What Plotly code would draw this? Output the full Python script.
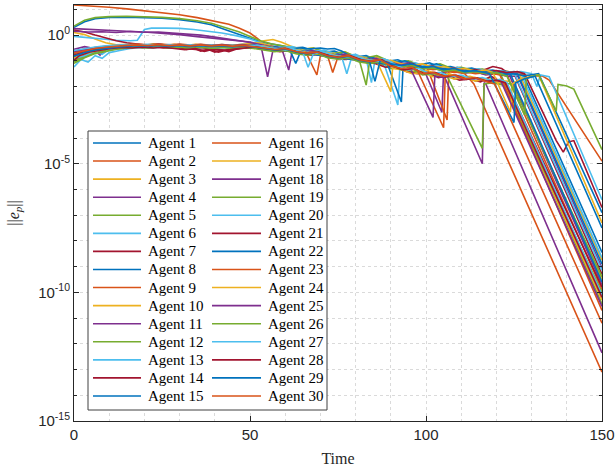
import plotly.graph_objects as go

# Each agent: list of (time, log10 ||e_p||) knots
a01 = [(0,0.30),(3,0.52),(6,0.64),(10,0.69),(15,0.70),(20,0.69),(25,0.66),(30,0.60),(35,0.51),(39,0.40),(43,0.22),(47,0.03),(50,-0.12),(53,-0.27),(56,-0.36),(59,-0.42),(62,-0.5),(65,-0.47),(68,-0.6),(71,-0.66),(74,-0.62),(77,-0.78),(80,-0.85),(83,-0.8),(86,-0.98),(89,-1.02),(92,-0.96),(95,-1.12),(98,-1.15),(101,-1.08),(104,-1.25),(107,-1.22),(110,-1.33),(113,-1.28),(116,-1.4),(119,-1.36),(122,-1.47),(125,-1.42),(127.5,-1.5),(150,-8.45)]
a02 = [(0,1.17),(5,1.13),(10,1.08),(15,1.02),(20,0.95),(25,0.88),(30,0.79),(35,0.68),(40,0.55),(44,0.42),(47,0.27),(50,0.08),(52,-0.12),(54,-0.35),(56,-0.5),(59,-0.55),(62,-0.62),(65,-0.58),(68,-0.7),(71,-0.76),(74,-0.72),(77,-0.88),(80,-0.93),(83,-1.0),(86,-0.95),(89,-1.12),(92,-1.08),(95,-1.2),(98,-1.27),(101,-1.2),(104,-1.33),(107,-1.3),(110,-1.42),(113,-1.37),(116,-1.5),(119,-1.45),(123,-1.55),(150,-9.9)]
a03 = [(0,0.10),(3,0.02),(6,-0.15),(9,-0.3),(12,-0.38),(16,-0.36),(20,-0.4),(24,-0.35),(28,-0.42),(32,-0.38),(36,-0.45),(40,-0.41),(44,-0.46),(48,-0.4),(51,-0.36),(54,-0.22),(56.5,-0.17),(59,-0.28),(62,-0.45),(65,-0.55),(68,-0.5),(71,-0.66),(74,-0.72),(77,-0.65),(80,-0.86),(83,-0.92),(86,-0.85),(89,-1.05),(92,-1.1),(95,-1.02),(98,-1.18),(101,-1.25),(104,-1.2),(107,-1.32),(110,-1.28),(113,-1.38),(116,-1.34),(119,-1.42),(122,-1.38),(126.5,-1.5),(150,-8.75)]
a04 = [(0,0.25),(5,0.21),(10,0.18),(15,0.15),(20,0.12),(25,0.07),(30,0.02),(35,-0.06),(40,-0.13),(45,-0.2),(50,-0.27),(53,-0.35),(55,-1.62),(56.5,-0.6),(59,-0.5),(62,-0.58),(65,-0.66),(68,-0.6),(71,-0.75),(74,-0.82),(77,-0.78),(80,-0.95),(83,-1.0),(86,-0.93),(89,-1.12),(92,-1.18),(95,-1.1),(99,-1.2),(104.5,-3.0),(105,-1.45),(108,-1.38),(111,-1.48),(114,-1.42),(117,-1.55),(120,-1.5),(123,-1.6),(126.1,-1.6),(150,-9.05)]
a05 = [(0,0.35),(3,0.58),(6,0.68),(10,0.72),(15,0.73),(20,0.72),(25,0.69),(30,0.64),(35,0.56),(39,0.46),(43,0.3),(47,0.12),(50,-0.05),(53,-0.22),(56,-0.34),(59,-0.4),(62,-0.48),(65,-0.55),(68,-0.5),(71,-0.65),(74,-0.7),(77,-0.66),(80,-0.82),(83,-0.88),(86,-0.8),(89,-0.98),(92,-1.05),(95,-1.0),(98,-1.15),(101,-1.2),(104,-1.12),(107,-1.28),(110,-1.25),(113,-1.36),(116,-1.32),(119,-1.42),(121,-1.45),(150,-10.45)]
a06 = [(0,-0.05),(4,-0.1),(8,-0.15),(12,-0.2),(16,-0.22),(18,-0.2),(20,0.22),(22,0.27),(26,0.27),(30,0.26),(34,0.22),(38,0.16),(42,0.08),(46,-0.02),(50,-0.15),(53,-0.3),(56,-0.42),(59,-0.48),(62,-0.45),(65,-0.58),(68,-0.62),(71,-0.58),(74,-0.72),(77,-0.8),(80,-0.75),(83,-0.92),(84.5,-1.85),(85.5,-0.95),(88,-1.05),(91,-1.1),(94,-1.05),(97,-1.2),(100,-1.25),(103,-1.18),(106,-1.32),(109,-1.28),(112,-1.4),(115,-1.36),(118,-1.45),(121,-1.4),(124,-1.48),(127,-1.5),(150,-8.65)]
a07 = [(0,0.20),(3,0.12),(6,0.0),(9,-0.12),(12,-0.22),(15,-0.3),(18,-0.36),(21,-0.4),(24,-0.44),(27,-0.5),(30,-0.48),(32,-0.56),(34,-0.5),(36,-0.62),(38,-0.55),(40,-0.66),(42,-0.58),(44,-0.64),(46,-0.55),(48,-0.52),(50,-0.48),(53,-0.5),(56,-0.55),(59,-0.6),(62,-0.56),(65,-0.68),(68,-0.74),(71,-0.7),(74,-0.85),(77,-0.9),(80,-0.84),(83,-1.0),(86,-1.06),(89,-1.0),(92,-1.15),(95,-1.2),(98,-1.14),(101,-1.28),(104,-1.24),(107,-1.35),(110,-1.3),(113,-1.42),(116,-1.38),(119,-1.22),(121.5,-1.3),(123,-1.45),(125,-1.5),(150,-9.3)]
a08 = [(0,-0.85),(3,-0.7),(6,-0.62),(9,-0.55),(12,-0.5),(15,-0.46),(18,-0.43),(21,-0.45),(24,-0.4),(27,-0.43),(30,-0.39),(33,-0.42),(36,-0.38),(39,-0.42),(42,-0.37),(45,-0.4),(48,-0.36),(51,-0.38),(54,-0.42),(57,-0.48),(60,-0.5),(62,-0.53),(64,-0.5),(66,-0.53),(68,-0.52),(70,-0.5),(72,-0.54),(74,-0.52),(76,-0.62),(79,-0.86),(82,-0.92),(85,-0.88),(88,-1.02),(91,-1.08),(94,-1.0),(97,-1.15),(100,-1.2),(103,-1.12),(106,-1.3),(109,-1.26),(112,-1.38),(115,-1.33),(118,-1.45),(120.5,-1.4),(123,-1.42),(126,-1.5),(150,-8.9)]
a09 = [(0,-0.95),(3,-0.78),(6,-0.65),(9,-0.58),(12,-0.5),(15,-0.47),(18,-0.44),(21,-0.46),(24,-0.42),(27,-0.45),(30,-0.4),(33,-0.44),(36,-0.4),(39,-0.44),(42,-0.41),(45,-0.45),(48,-0.4),(51,-0.45),(54,-0.5),(57,-0.56),(60,-0.62),(63,-0.58),(66,-0.7),(69,-1.55),(70,-0.8),(73,-0.78),(76,-0.9),(79,-0.95),(82,-0.9),(85,-1.05),(88,-1.1),(91,-1.04),(94,-1.18),(97,-1.22),(100,-1.15),(106,-3.3),(106.5,-1.35),(109,-1.32),(112,-1.42),(115,-1.38),(118,-1.5),(121,-1.45),(124,-1.55),(127,-1.52),(130,-1.6),(133,-1.58),(135,-1.75),(150,-4.9)]
a10 = [(0,-0.75),(1.5,-0.62),(4.5,-0.55),(7.5,-0.5),(10.5,-0.45),(13.5,-0.42),(16.5,-0.38),(19.5,-0.4),(22.5,-0.36),(25.5,-0.4),(28.5,-0.37),(31.5,-0.41),(34.5,-0.36),(37.5,-0.4),(40.5,-0.38),(43.5,-0.42),(46.5,-0.38),(49.5,-0.34),(52.5,-0.3),(55.5,-0.4),(58.5,-0.52),(61.5,-0.6),(64.5,-0.56),(67.5,-0.7),(70.5,-0.76),(73.5,-0.7),(76.5,-0.88),(79.5,-0.93),(82.5,-0.86),(85.5,-1.05),(88.5,-1.2),(91.5,-1.15),(94.5,-1.35),(97.5,-1.45),(100.5,-1.38),(103.5,-1.55),(106.5,-1.5),(109.5,-1.65),(112.5,-1.6),(115.5,-1.72),(118.5,-1.66),(121.5,-1.78),(124.5,-1.8),(150,-9.5)]
a11 = [(0,0.15),(4,0.12),(8,0.13),(12,0.1),(16,0.14),(20,0.11),(24,0.12),(28,0.08),(32,0.05),(36,0.0),(40,-0.08),(44,-0.15),(48,-0.24),(51,-0.32),(54,-0.4),(57,-0.45),(59,-0.52),(61,-1.36),(62,-0.6),(65,-0.65),(68,-0.6),(71,-0.75),(74,-0.8),(77,-0.74),(80,-0.92),(83,-0.98),(86,-0.9),(89,-1.1),(92,-1.15),(95,-1.08),(98,-1.22),(101,-1.3),(104,-1.24),(107,-1.36),(110,-1.32),(113,-1.44),(116,-1.4),(119,-1.48),(122,-1.45),(123.5,-1.5),(150,-9.7)]
a12 = [(0,-1.05),(3,-0.85),(6,-0.7),(9,-0.6),(12,-0.52),(15,-0.48),(18,-0.45),(21,-0.42),(24,-0.45),(27,-0.41),(30,-0.45),(33,-0.42),(36,-0.46),(39,-0.43),(42,-0.47),(45,-0.43),(48,-0.45),(51,-0.42),(54,-0.48),(57,-0.55),(60,-0.5),(63,-0.64),(66,-0.7),(69,-0.66),(72,-0.8),(75,-0.85),(78,-0.78),(81,-0.95),(83,-1.94),(84,-1.0),(87,-1.1),(90,-1.3),(93,-1.22),(96,-1.45),(99,-1.4),(102,-1.6),(105,-1.52),(108,-1.7),(111,-1.62),(114,-1.78),(117,-1.7),(120,-1.85),(124.5,-1.9),(150,-9.4)]
a13 = [(0,-1.24),(2,-0.95),(4,-1.05),(6,-0.8),(8,-0.9),(10,-0.68),(13,-0.6),(16,-0.52),(19,-0.48),(22,-0.5),(25,-0.46),(28,-0.5),(31,-0.47),(34,-0.52),(37,-0.48),(40,-0.52),(43,-0.48),(46,-0.5),(49,-0.45),(52,-0.4),(55,-0.45),(58,-0.55),(61,-0.6),(64,-0.56),(67,-0.7),(70,-0.76),(73,-0.7),(76,-0.86),(79,-0.92),(82,-0.86),(85,-1.02),(88,-1.08),(92,-2.72),(92.6,-1.2),(95,-1.15),(98,-1.25),(101,-1.2),(104,-1.33),(107,-1.3),(110,-1.42),(113,-1.38),(116,-1.46),(119,-1.42),(122,-1.5),(125.3,-1.55),(150,-9.15)]
a14 = [(0,-0.9),(1.5,-0.75),(4.5,-0.64),(7.5,-0.56),(10.5,-0.5),(13.5,-0.5),(16.5,-0.46),(19.5,-0.49),(22.5,-0.45),(25.5,-0.5),(28.5,-0.47),(31.5,-0.52),(34.5,-0.56),(37.5,-0.6),(40.5,-0.55),(43.5,-0.6),(46.5,-0.52),(49.5,-0.48),(52.5,-0.52),(55.5,-0.58),(58.5,-0.64),(61.5,-0.6),(64.5,-0.72),(67.5,-0.78),(70.5,-0.72),(73.5,-0.88),(76.5,-0.94),(79.5,-0.88),(82.5,-1.04),(85.5,-1.1),(88.5,-1.25),(91.5,-1.2),(94.5,-1.42),(97.5,-1.5),(100.5,-1.45),(103.5,-1.65),(106.5,-1.58),(109.5,-1.75),(112.5,-1.7),(115.5,-1.82),(118.5,-1.6),(121,-1.8),(123,-1.9),(150,-9.8)]
a15 = [(0,-0.7),(3,-0.6),(6,-0.52),(9,-0.48),(12,-0.45),(15,-0.42),(18,-0.4),(21,-0.43),(24,-0.39),(27,-0.42),(30,-0.38),(33,-0.42),(36,-0.38),(39,-0.43),(42,-0.4),(45,-0.44),(48,-0.4),(51,-0.44),(54,-0.5),(57,-0.46),(60,-0.58),(63,-0.64),(66,-0.6),(69,-0.74),(72,-0.8),(75,-0.74),(78,-0.9),(81,-0.96),(84,-0.9),(87,-1.06),(89,-1.1),(93,-2.6),(93.5,-1.2),(96,-1.18),(99,-1.3),(102,-1.25),(105,-1.36),(108,-1.32),(111,-1.42),(114,-1.38),(117,-1.46),(120,-1.42),(123,-1.5),(124,-1.52),(150,-9.6)]
a16 = [(0,-0.8),(3,-0.66),(6,-0.58),(9,-0.52),(12,-0.47),(15,-0.44),(18,-0.41),(21,-0.44),(24,-0.4),(27,-0.44),(30,-0.41),(33,-0.45),(36,-0.42),(39,-0.46),(42,-0.43),(45,-0.47),(48,-0.44),(51,-0.48),(54,-0.55),(57,-0.6),(60,-0.56),(63,-0.68),(66,-0.74),(69,-0.7),(72,-0.84),(75,-0.9),(78,-0.84),(81,-1.0),(84,-1.06),(87,-1.0),(90,-1.14),(93,-1.2),(96,-1.14),(99,-1.28),(102,-1.34),(105,-1.3),(108,-1.42),(111,-1.5),(113.6,-1.9),(150,-13.1)]
a17 = [(0,-0.68),(1.5,-0.58),(4.5,-0.5),(7.5,-0.46),(10.5,-0.42),(13.5,-0.4),(16.5,-0.37),(19.5,-0.4),(22.5,-0.36),(25.5,-0.4),(28.5,-0.37),(31.5,-0.41),(34.5,-0.38),(37.5,-0.42),(40.5,-0.38),(43.5,-0.42),(46.5,-0.39),(49.5,-0.43),(52.5,-0.48),(55.5,-0.44),(58.5,-0.56),(61.5,-0.62),(64.5,-0.58),(67.5,-0.72),(70.5,-0.78),(73.5,-0.72),(76.5,-0.88),(79.5,-0.94),(82.5,-0.88),(86,-1.0),(90,-2.2),(90.5,-1.3),(93,-1.35),(96,-1.5),(99,-1.45),(102,-1.62),(105,-1.56),(108,-1.7),(111,-1.65),(114,-1.78),(117,-1.72),(120,-1.82),(122,-1.85),(150,-10.3)]
a18 = [(0,-0.55),(3,-0.45),(5,-0.5),(7.4,-0.78),(9,-0.55),(12,-0.48),(15,-0.44),(18,-0.41),(21,-0.44),(24,-0.4),(27,-0.44),(30,-0.41),(33,-0.45),(36,-0.42),(39,-0.46),(42,-0.42),(45,-0.46),(48,-0.43),(51,-0.47),(54,-0.52),(57,-0.48),(60,-0.6),(63,-0.66),(66,-0.62),(69,-0.76),(72,-0.82),(75,-0.76),(78,-0.92),(81,-0.98),(84,-0.92),(87,-1.08),(90,-1.14),(93,-1.08),(96,-1.22),(99,-1.28),(102,-1.22),(104.5,-1.38),(116,-5.0),(116.5,-1.85),(117,-1.9),(150,-12.35)]
a19 = [(0,-1.0),(3,-0.82),(6,-0.68),(9,-0.6),(12,-0.54),(15,-0.5),(18,-0.46),(21,-0.48),(24,-0.44),(27,-0.48),(30,-0.45),(33,-0.49),(36,-0.45),(39,-0.5),(42,-0.46),(45,-0.5),(48,-0.46),(51,-0.5),(54,-0.56),(57,-0.62),(60,-0.58),(63,-0.7),(66,-0.76),(69,-0.7),(72,-0.86),(75,-0.92),(78,-0.86),(81,-1.02),(84,-1.08),(87,-1.02),(90,-1.16),(93,-1.35),(96,-1.3),(99,-1.55),(102,-1.5),(106,-1.6),(116,-4.4),(116.5,-1.9),(119,-1.85),(122,-1.95),(150,-10.0)]
a20 = [(0,-0.9),(3,-0.8),(6,-0.62),(8,-0.75),(10,-0.55),(13,-0.5),(16,-0.46),(19,-0.44),(22,-0.47),(25,-0.43),(28,-0.47),(31,-0.44),(34,-0.48),(37,-0.44),(40,-0.49),(43,-0.45),(46,-0.48),(49,-0.44),(52,-0.4),(55,-0.46),(58,-0.52),(61,-0.48),(64,-0.6),(67,-0.66),(70,-0.62),(73,-0.76),(76,-0.82),(77.5,-1.5),(79,-0.8),(82,-0.92),(85,-0.98),(88,-0.92),(91,-1.08),(94,-1.14),(97,-1.08),(100,-1.22),(103,-1.18),(106,-1.3),(109,-1.26),(112,-1.36),(115,-1.32),(118,-1.42),(121,-1.38),(124,-1.46),(127,-1.42),(130,-1.5),(131.5,-2.0),(132.5,-1.55),(135,-1.62),(150,-6.4)]
a21 = [(0,-0.78),(3,-0.64),(6,-0.56),(9,-0.5),(12,-0.46),(15,-0.43),(18,-0.46),(21,-0.42),(24,-0.46),(27,-0.43),(30,-0.47),(33,-0.52),(36,-0.48),(39,-0.55),(42,-0.6),(45,-0.54),(48,-0.5),(51,-0.46),(54,-0.5),(57,-0.56),(60,-0.52),(63,-0.64),(66,-0.7),(69,-0.66),(72,-0.8),(75,-0.86),(78,-0.8),(81,-0.96),(84,-1.02),(87,-0.96),(90,-1.1),(93,-1.16),(96,-1.1),(99,-1.24),(102,-1.2),(105,-1.32),(108,-1.28),(111,-1.38),(114,-1.34),(117,-1.42),(120,-1.38),(123,-1.46),(126,-1.42),(128,-1.5),(137,-4.1),(139,-4.55),(140.5,-4.15),(142,-4.1),(150,-6.7)]
a22 = [(0,-0.72),(1.5,-0.6),(4.5,-0.53),(7.5,-0.47),(10.5,-0.43),(13.5,-0.41),(16.5,-0.38),(19.5,-0.41),(22.5,-0.37),(25.5,-0.41),(28.5,-0.38),(31.5,-0.42),(34.5,-0.38),(37.5,-0.42),(40.5,-0.39),(43.5,-0.43),(46.5,-0.4),(49.5,-0.45),(52.5,-0.5),(55.5,-0.46),(58.5,-0.58),(61.5,-0.64),(63,-1.1),(64.5,-0.6),(67.5,-0.74),(70.5,-0.8),(73.5,-0.74),(76.5,-0.9),(79.5,-0.96),(82.5,-0.9),(85.5,-1.06),(88.5,-1.12),(91.5,-1.06),(94.5,-1.2),(97.5,-1.26),(100.5,-1.2),(103.5,-1.34),(106.5,-1.3),(109.5,-1.4),(112.5,-1.36),(115.5,-1.44),(118.5,-1.4),(121.5,-1.55),(124.5,-1.5),(128,-1.58),(132,-1.5),(150,-6.9)]
a23 = [(0,-0.62),(3,-0.55),(6,-0.48),(9,-0.44),(12,-0.4),(15,-0.38),(18,-0.35),(21,-0.38),(24,-0.34),(27,-0.38),(30,-0.35),(33,-0.39),(36,-0.36),(39,-0.4),(42,-0.37),(45,-0.41),(48,-0.38),(51,-0.42),(54,-0.48),(57,-0.54),(60,-0.5),(63,-0.62),(66,-0.68),(69,-0.64),(72,-0.78),(73.5,-1.45),(75,-0.84),(78,-0.78),(81,-0.94),(84,-1.0),(87,-0.94),(90,-1.08),(93,-1.14),(97,-1.2),(105,-3.6),(105.5,-1.4),(108,-1.45),(111,-1.42),(114,-1.5),(117,-1.46),(120,-1.52),(121,-1.55),(150,-10.7)]
a24 = [(0,-0.88),(3,-0.72),(6,-0.62),(9,-0.55),(12,-0.49),(15,-0.45),(18,-0.42),(21,-0.45),(24,-0.41),(27,-0.45),(30,-0.42),(33,-0.46),(36,-0.42),(39,-0.46),(42,-0.43),(45,-0.47),(48,-0.44),(51,-0.48),(54,-0.44),(57,-0.52),(60,-0.6),(63,-0.56),(66,-0.68),(69,-0.74),(72,-0.68),(75,-0.82),(78,-0.88),(81,-0.82),(84,-0.98),(87,-1.04),(90,-0.98),(93,-1.12),(96,-1.18),(99,-1.12),(102,-1.26),(105,-1.22),(108,-1.34),(111,-1.3),(114,-1.4),(117,-1.36),(119,-1.45),(124,-3.0),(124.5,-1.9),(127,-1.7),(130,-1.6),(132,-1.55),(150,-7.3)]
a25 = [(0,-0.65),(3,-0.56),(6,-0.5),(9,-0.45),(12,-0.42),(15,-0.4),(18,-0.37),(21,-0.4),(24,-0.36),(27,-0.4),(30,-0.37),(33,-0.41),(36,-0.37),(39,-0.41),(42,-0.38),(45,-0.42),(48,-0.39),(51,-0.43),(54,-0.5),(57,-0.56),(60,-0.52),(63,-0.64),(66,-0.7),(69,-0.66),(72,-0.8),(75,-0.86),(78,-0.8),(81,-0.96),(84,-1.02),(87,-0.96),(90,-1.1),(93,-1.16),(95,-1.12),(102,-3.2),(102.5,-1.6),(105,-1.65),(108,-1.58),(111,-1.72),(114,-1.68),(117,-1.8),(120,-1.75),(121.3,-1.8),(150,-10.55)]
a26 = [(0,-1.1),(3,-0.88),(6,-0.72),(9,-0.62),(12,-0.55),(15,-0.5),(18,-0.47),(21,-0.5),(24,-0.46),(27,-0.5),(30,-0.47),(33,-0.51),(36,-0.47),(39,-0.52),(42,-0.48),(45,-0.52),(48,-0.48),(51,-0.52),(54,-0.58),(57,-0.64),(60,-0.6),(63,-0.72),(66,-0.78),(69,-0.72),(72,-0.88),(75,-0.94),(78,-0.88),(81,-1.04),(84,-1.1),(87,-1.04),(90,-1.18),(93,-1.24),(96,-1.18),(99,-1.32),(102,-1.28),(105,-1.4),(108,-1.36),(111,-1.46),(114,-1.42),(117,-1.5),(120,-1.46),(123,-1.6),(128,-3.1),(128.5,-1.7),(130,-1.6),(132,-1.55),(137,-2.95),(137.5,-1.92),(140,-1.98),(142,-2.1),(150,-4.45)]
a27 = [(0,-0.6),(3,-0.52),(6,-0.46),(9,-0.42),(12,-0.39),(15,-0.37),(18,-0.4),(21,-0.36),(24,-0.4),(27,-0.37),(30,-0.41),(33,-0.38),(36,-0.42),(39,-0.39),(42,-0.43),(45,-0.4),(48,-0.44),(51,-0.41),(54,-0.46),(57,-0.52),(60,-0.58),(62,-0.54),(65,-0.66),(66.5,-1.25),(68,-0.72),(71,-0.66),(74,-0.8),(77,-0.86),(80,-0.8),(83,-0.96),(86,-1.02),(89,-0.96),(92,-1.2),(95,-1.35),(98,-1.3),(101,-1.5),(104,-1.45),(107,-1.62),(110,-1.55),(113,-1.7),(116,-1.65),(119,-1.78),(121,-1.72),(123,-1.85),(150,-10.1)]
a28 = [(0,-0.98),(1.5,-0.8),(4.5,-0.66),(7.5,-0.58),(10.5,-0.52),(13.5,-0.48),(16.5,-0.5),(19.5,-0.46),(22.5,-0.5),(25.5,-0.47),(28.5,-0.52),(31.5,-0.57),(34.5,-0.52),(37,-0.63),(39,-0.57),(41,-0.66),(43,-0.6),(45.5,-0.54),(48.5,-0.5),(51.5,-0.46),(54.5,-0.52),(57.5,-0.58),(60.5,-0.54),(63.5,-0.66),(66.5,-0.72),(69.5,-0.66),(72.5,-0.8),(75.5,-0.86),(78.5,-0.8),(81.5,-0.96),(84.5,-1.02),(87.5,-0.96),(90.5,-1.2),(93.5,-1.35),(96.5,-1.3),(99.5,-1.5),(102.5,-1.45),(105.5,-1.62),(108.5,-1.55),(111.5,-1.72),(114.5,-1.66),(117.5,-1.8),(120,-1.75),(122.5,-1.85),(150,-10.2)]
a29 = [(0,-0.82),(3,-0.68),(6,-0.58),(9,-0.52),(12,-0.47),(15,-0.44),(18,-0.41),(21,-0.44),(24,-0.4),(27,-0.44),(30,-0.41),(33,-0.45),(36,-0.41),(39,-0.45),(42,-0.42),(45,-0.46),(48,-0.42),(51,-0.46),(54,-0.52),(57,-0.58),(60,-0.54),(63,-0.66),(66,-0.72),(69,-0.66),(72,-0.82),(75,-0.88),(78,-0.82),(81,-0.98),(84,-1.04),(85.5,-1.8),(87,-0.98),(90,-1.12),(93,-1.18),(96,-1.12),(99,-1.26),(102,-1.22),(105,-1.34),(108,-1.3),(111,-1.42),(114,-1.38),(117,-1.46),(118,-1.5),(125,-3.4),(125.5,-1.85),(128,-1.7),(131,-1.6),(150,-7.5)]
a30 = [(0,-0.7),(3,-0.6),(6,-0.52),(9,-0.47),(12,-0.43),(15,-0.4),(18,-0.38),(21,-0.41),(24,-0.37),(27,-0.41),(30,-0.38),(33,-0.42),(36,-0.38),(39,-0.42),(42,-0.39),(45,-0.43),(48,-0.4),(51,-0.44),(54,-0.5),(57,-0.56),(60,-0.52),(63,-0.64),(66,-0.7),(69,-0.66),(72,-0.8),(75,-0.86),(78,-0.8),(81,-0.96),(84,-1.02),(87,-0.96),(90,-1.2),(93,-1.3),(96,-1.25),(99,-1.5),(102,-1.45),(105,-1.6),(108,-1.55),(111,-1.7),(114,-1.65),(117,-1.8),(119.5,-1.9),(150,-11.2)]

agents = [a01, a02, a03, a04, a05, a06, a07, a08, a09, a10,
          a11, a12, a13, a14, a15, a16, a17, a18, a19, a20,
          a21, a22, a23, a24, a25, a26, a27, a28, a29, a30]
agent_names = [f"Agent {i}" for i in range(1, 31)]

x_tick_vals = [0, 50, 100, 150]
x_minor_vals = [10, 20, 30, 40, 60, 70, 80, 90, 110, 120, 130, 140]
y_tick_exps = [0, -5, -10, -15]
y_minor_exps = list(range(-15, 2))

colors = ["#0072BD", "#D95319", "#EDB120", "#7E2F8E", "#77AC30", "#4DBEEE", "#A2142F"]

W, H = 616, 473
ML, MR, MT, MB = 74, 14, 5, 52
PW, PH = W - ML - MR, H - MT - MB


def px_x(p):
    return (p - ML) / PW


def px_y(p):
    return 1 - (p - MT) / PH


fig = go.Figure()
for i, (name, pts) in enumerate(zip(agent_names, agents)):
    fig.add_trace(go.Scatter(
        x=[p[0] for p in pts],
        y=[10 ** p[1] for p in pts],
        mode="lines",
        name=name,
        line=dict(color=colors[i % 7], width=1.6),
        showlegend=False,
    ))

axis_col = "#262626"
grid_col = "#dadada"
tick_font = dict(family="Liberation Sans, Arial, sans-serif", size=15, color=axis_col)
serif = "Liberation Serif, Times New Roman, serif"

# legend drawn as box + line samples + text (two columns, column-major order)
shapes = [dict(type="rect", xref="paper", yref="paper",
               x0=px_x(88), x1=px_x(327), y0=px_y(410), y1=px_y(131),
               fillcolor="white", line=dict(color="#404040", width=1), layer="above")]
annotations = []
row_y0, row_dy = 143, 18.07
col_line_x = [(93, 141), (212, 261)]
col_text_x = [146, 266]
for i, name in enumerate(agent_names):
    c, r = divmod(i, 15)
    yy = px_y(row_y0 + r * row_dy)
    shapes.append(dict(type="line", xref="paper", yref="paper",
                       x0=px_x(col_line_x[c][0]), x1=px_x(col_line_x[c][1]), y0=yy, y1=yy,
                       line=dict(color=colors[i % 7], width=1.6), layer="above"))
    annotations.append(dict(text=name, xref="paper", yref="paper",
                            x=px_x(col_text_x[c]), y=yy, xanchor="left", yanchor="middle",
                            showarrow=False, font=dict(family=serif, size=15, color="black")))

fig.update_layout(
    width=W, height=H,
    margin=dict(l=ML, r=MR, t=MT, b=MB, autoexpand=False),
    paper_bgcolor="white", plot_bgcolor="white",
    showlegend=False,
    shapes=shapes,
    annotations=annotations,
)

fig.update_xaxes(
    range=[0, 150],
    tickmode="array", tickvals=x_tick_vals, ticktext=[str(v) for v in x_tick_vals],
    ticks="inside", ticklen=5, tickcolor=axis_col,
    showline=True, linecolor=axis_col, linewidth=1, mirror="ticks",
    showgrid=True, gridcolor=grid_col, griddash="dot", gridwidth=1,
    minor=dict(tickvals=x_minor_vals, ticks="", showgrid=True,
               gridcolor=grid_col, griddash="dot", gridwidth=1),
    tickfont=tick_font, zeroline=False,
    title=dict(text="Time", font=dict(family=serif, size=16, color=axis_col), standoff=10),
)

fig.update_yaxes(
    type="log", range=[-15, 1.17],
    tickmode="array", tickvals=[10 ** e for e in y_tick_exps],
    ticktext=[f"10<sup>{e}</sup>" for e in y_tick_exps],
    ticks="inside", ticklen=5, tickcolor=axis_col,
    showline=True, linecolor=axis_col, linewidth=1, mirror="ticks",
    showgrid=True, gridcolor=grid_col, griddash="dot", gridwidth=1,
    minor=dict(tickvals=[10 ** e for e in y_minor_exps], ticks="inside", ticklen=3,
               tickcolor=axis_col, showgrid=True,
               gridcolor=grid_col, griddash="dot", gridwidth=1),
    tickfont=tick_font, zeroline=False,
    title=dict(text="||<i>e<sub>p</sub></i>||", font=dict(family=serif, size=16, color=axis_col), standoff=14),
)

fig.write_html("out.html", config={"displayModeBar": False},
               post_script="document.body.style.margin='0px';")
